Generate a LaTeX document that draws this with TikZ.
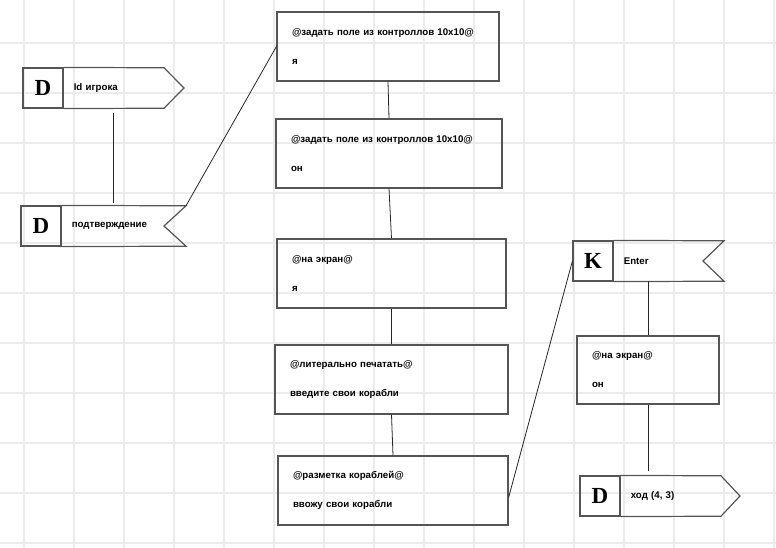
\documentclass[tikz,border=0pt]{standalone}
\usepackage{fontspec}
\setmainfont{Liberation Sans}
\newfontfamily\letterfont{Liberation Serif}
\usetikzlibrary{positioning,calc}
\definecolor{gridgray}{RGB}{236,236,236}
\definecolor{boxgray}{RGB}{85,85,85}

\begin{document}
\begin{tikzpicture}[x=1pt, y=-1pt,
    font=\bfseries\fontsize{9.7}{29}\selectfont,
    block/.style={draw=boxgray, line width=\linethick, rectangle, minimum height=69pt,
        inner xsep=15pt, inner ysep=0pt, align=left},
    letter/.style={draw=boxgray, line width=\linethick, minimum width=40pt, minimum height=40pt,
        inner sep=0pt, font=\letterfont\bfseries\fontsize{23}{23}\selectfont},
    tag/.style={minimum height=40pt, inner xsep=10pt, inner ysep=0pt, anchor=west, align=left},
    outline/.style={draw=boxgray, line width=\linethick},
    conn/.style={line width=0.8pt, black!85}]

        \def\linethick{1.2pt}

        \useasboundingbox (0,0) rectangle (776,548);

        % grid
        \foreach \gx in {24,74,...,774}
            \draw[gridgray, line width=1.5pt] (\gx,0) -- (\gx,548);
        \foreach \gy in {43,93,...,543}
            \draw[gridgray, line width=1.5pt] (0,\gy) -- (776,\gy);

        % blocks
        \node[block, text width=192pt] (b1) at (388,46.5) {@задать поле из контроллов 10x10@\\я};
        \node[block, text width=196pt] (b2) at (389,153.5) {@задать поле из контроллов 10x10@\\он};
        \node[block, text width=199pt] (b3) at (391.5,273.5) {@на экран@\\я};
        \node[block, text width=203pt] (b4) at (391.5,379.5) {@литерально печатать@\\введите свои корабли};
        \node[block, text width=200pt] (b5) at (393,490.5) {@разметка кораблей@\\ввожу свои корабли};
        \node[block, text width=112pt, minimum height=68pt] (b6) at (648,370) {@на экран@\\он};

        % tags
        \node[letter] (d1) at (43,88) {D};
        \node[tag, text width=80pt] (l1) at (d1.east) {Id игрока};
        \draw[outline] (d1.north east) -- (l1.north east) -- ($(l1.east)+(20,0)$) -- (l1.south east) -- (d1.south east);

        \node[letter] (d2) at (41,226) {D};
        \node[tag, text width=104pt] (l2) at (d2.east) {подтверждение};
        \draw[outline] (d2.north east) -- (l2.north east) -- ($(l2.east)+(-22,0)$) -- (l2.south east) -- (d2.south east);

        \node[letter] (k) at (593,261) {K};
        \node[tag, text width=90pt] (l3) at (k.east) {Enter};
        \draw[outline] (k.north east) -- (l3.north east) -- ($(l3.east)+(-21,0)$) -- (l3.south east) -- (k.south east);

        \node[letter] (d4) at (600,496) {D};
        \node[tag, text width=80pt] (l4) at (d4.east) {ход (4, 3)};
        \draw[outline] (d4.north east) -- (l4.north east) -- ($(l4.east)+(19,0)$) -- (l4.south east) -- (d4.south east);

        % connectors
        \draw[conn, shorten <=5pt, shorten >=3pt] (l1.south) -- (l1.south |- l2.north);
        \draw[conn] (l2.north east) -- (b1.west);
        \draw[conn] (b1.south) -- (b2.north);
        \draw[conn] (b2.south) -- (b3.north);
        \draw[conn] (b3.south) -- (b4.north);
        \draw[conn] (b4.south) -- (b5.north);
        \draw[conn] ($(b5.north east)!0.6!(b5.south east)$) -- (k.west);
        \draw[conn] (l3.south -| b6.north) -- (b6.north);
        \draw[conn, shorten >=5pt] (b6.south) -- (b6.south |- l4.north);

    \end{tikzpicture}
\end{document}
